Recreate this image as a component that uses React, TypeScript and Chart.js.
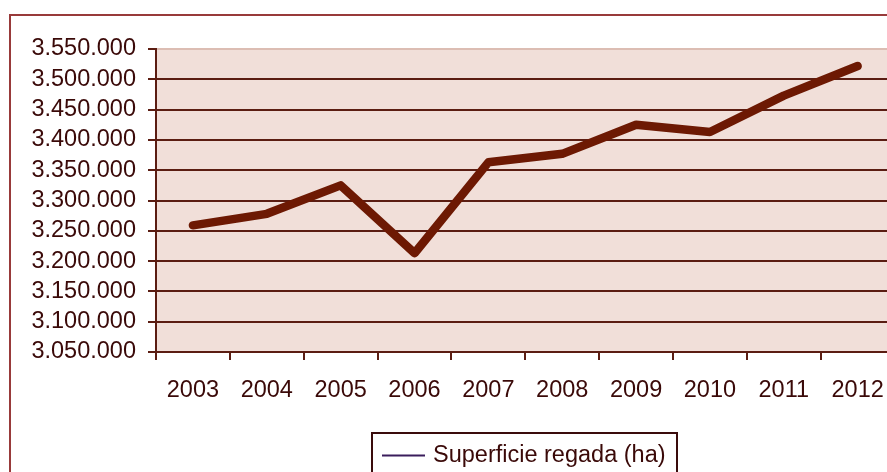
import React, { useEffect, useRef } from "react";
import { Chart, registerables } from "chart.js";

Chart.register(...registerables);

// ---- data ----
const categories = ["2003", "2004", "2005", "2006", "2007", "2008", "2009", "2010", "2011", "2012"];
const superficieRegada = [3259000, 3278000, 3325000, 3213000, 3363000, 3377000, 3425000, 3413000, 3473000, 3522000];
const seriesLabel = "Superficie regada (ha)";
const yMin = 3050000;
const yMax = 3550000;
const yStep = 50000;

// ---- style ----
const FONT = { family: "'Liberation Sans', Arial, sans-serif", size: 23.5 };
const TEXT = "#3a0908";
const GRID = "#5b1d12";
const GRID_TOP = "#dcbdb3";
const PLOT_BG = "#f1dfd9";
const LINE = "#6d1903";
const FRAME = "#983a3a";
const W = 900;
const H = 472;

const fmt = (v: number) => String(Math.round(v)).replace(/\B(?=(\d{3})+(?!\d))/g, ".");

const bgPlugin = {
  id: "bgPlugin",
  beforeDraw(chart: any) {
    const { ctx, chartArea: a } = chart;
    ctx.save();
    ctx.fillStyle = "#ffffff";
    ctx.fillRect(0, 0, chart.width, chart.height);
    ctx.strokeStyle = FRAME;
    ctx.lineWidth = 2;
    ctx.beginPath();
    ctx.moveTo(10, H + 10);
    ctx.lineTo(10, 15);
    ctx.lineTo(W + 10, 15);
    ctx.stroke();
    ctx.fillStyle = PLOT_BG;
    ctx.fillRect(a.left, a.top, a.right - a.left, a.bottom - a.top);
    ctx.restore();
  },
};

const legendPlugin = {
  id: "legendBox",
  afterDraw(chart: any) {
    const { ctx } = chart;
    const label = chart.data.datasets[0].label;
    ctx.save();
    ctx.strokeStyle = "#3a0c0c";
    ctx.lineWidth = 2;
    ctx.strokeRect(372, 433, 305, 60);
    ctx.strokeStyle = "#3a1d5c";
    ctx.lineWidth = 2;
    ctx.beginPath();
    ctx.moveTo(382, 455.5);
    ctx.lineTo(425, 455.5);
    ctx.stroke();
    ctx.fillStyle = TEXT;
    ctx.font = `${FONT.size}px ${FONT.family}`;
    ctx.textBaseline = "alphabetic";
    ctx.textAlign = "left";
    ctx.fillText(label, 433, 462);
    ctx.restore();
  },
};

export default function App() {
  const ref = useRef<HTMLCanvasElement | null>(null);

  useEffect(() => {
    if (!ref.current) return;
    const chart = new Chart(ref.current, {
      type: "line",
      data: {
        labels: categories,
        datasets: [
          {
            label: seriesLabel,
            data: superficieRegada,
            borderColor: LINE,
            backgroundColor: LINE,
            borderWidth: 8.5,
            pointRadius: 0,
            tension: 0,
            fill: false,
            borderCapStyle: "round",
            borderJoinStyle: "round",
          },
        ],
      },
      options: {
        responsive: false,
        animation: false,
        devicePixelRatio: 1,
        layout: { padding: { left: 0, top: 49, right: 4, bottom: 0 } },
        plugins: { legend: { display: false }, tooltip: { enabled: false } },
        scales: {
          x: {
            offset: true,
            grid: {
              offset: true,
              drawOnChartArea: false,
              drawTicks: true,
              tickLength: 8,
              tickColor: GRID,
              tickWidth: 2,
              lineWidth: 2,
              color: GRID,
            },
            border: { display: false },
            ticks: { color: TEXT, font: FONT, padding: 16, maxRotation: 0, autoSkip: false },
            afterFit: (a: any) => {
              a.height = H - 352;
            },
          },
          y: {
            min: yMin,
            max: yMax,
            ticks: {
              stepSize: yStep,
              autoSkip: false,
              callback: (v: any) => fmt(Number(v)),
              color: TEXT,
              font: FONT,
              padding: 12,
            },
            grid: {
              color: (c: any) => (c.tick && c.tick.value === yMax ? GRID_TOP : GRID),
              lineWidth: 2,
              tickLength: 8,
              tickColor: GRID,
              tickWidth: 2,
            },
            border: { display: true, color: GRID, width: 2 },
            afterFit: (a: any) => {
              a.width = 156;
            },
          },
        },
      },
      plugins: [bgPlugin, legendPlugin],
    });
    return () => chart.destroy();
  }, []);

  return (
    <div style={{ position: "fixed", left: 0, top: 0, width: 887, height: 472, overflow: "hidden", background: "#fff" }}>
      <canvas ref={ref} width={W} height={H} style={{ display: "block" }} />
    </div>
  );
}
